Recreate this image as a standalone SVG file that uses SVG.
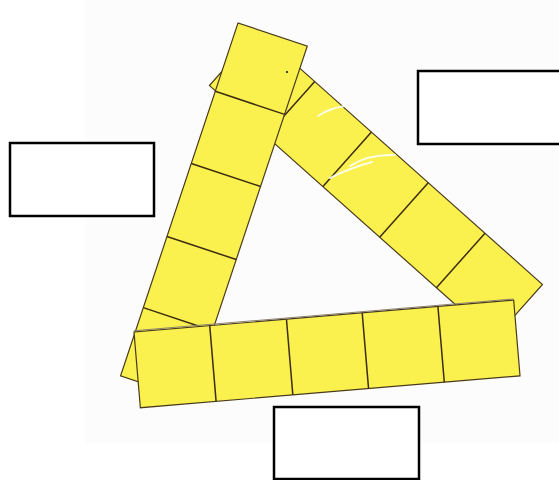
<svg xmlns="http://www.w3.org/2000/svg" width="559" height="480" viewBox="0 0 559 480">
  <style>
    .strip { fill: #FAF14E; stroke: #4a3a1c; stroke-width: 1.2; }
    .div { stroke: #3d2c12; stroke-width: 1.5; fill: none; }
    .box { fill: #ffffff; stroke: #000000; stroke-width: 2.5; }
    .tape { stroke: #ffffff; stroke-width: 2; fill: none; stroke-linecap: round; opacity: 0.85; }
  </style>
  <rect x="0" y="0" width="559" height="480" fill="#ffffff"/>
  <rect x="86" y="0" width="473" height="443" fill="#fcfcfc"/>

  <g id="strip-right">
    <g transform="translate(258,31) rotate(41.7)">
      <rect class="strip" x="0" y="0" width="381" height="73"/>
      <line class="div" x1="76" y1="0" x2="76" y2="73"/>
      <line class="div" x1="152" y1="0" x2="152" y2="73"/>
      <line class="div" x1="228" y1="0" x2="228" y2="73"/>
      <line class="div" x1="304" y1="0" x2="304" y2="73"/>
    </g>
    <path class="tape" d="M318,116 Q330,108 345,106"/>
    <path class="tape" d="M330,178 Q350,168 372,162"/>
    <path class="tape" d="M350,166 Q368,154 395,155"/>
  </g>

  <g id="strip-left">
    <g transform="translate(238,23) rotate(18.4)">
      <rect class="strip" x="0" y="0" width="73" height="372"/>
      <line class="div" x1="0" y1="72" x2="73" y2="72"/>
      <line class="div" x1="0" y1="148" x2="73" y2="148"/>
      <line class="div" x1="0" y1="225" x2="73" y2="225"/>
      <line class="div" x1="0" y1="300" x2="73" y2="300"/>
    </g>
    <circle cx="287" cy="72" r="1.1" fill="#222"/>
  </g>

  <g id="strip-bottom">
    <g transform="translate(134,332) rotate(-4.8)">
      <rect class="strip" x="0" y="0" width="381" height="76"/>
      <line x1="0" y1="-1.2" x2="381" y2="-1.2" stroke="#8a8070" stroke-width="1"/>
      <line class="div" x1="76" y1="0" x2="76" y2="76"/>
      <line class="div" x1="153" y1="0" x2="153" y2="76"/>
      <line class="div" x1="229" y1="0" x2="229" y2="76"/>
      <line class="div" x1="305" y1="0" x2="305" y2="76"/>
    </g>
  </g>

  <g id="box-left">
    <rect class="box" x="10" y="143" width="144" height="73"/>
  </g>
  <g id="box-top-right">
    <rect class="box" x="418" y="71" width="145" height="73"/>
  </g>
  <g id="box-bottom">
    <rect class="box" x="274" y="407" width="145" height="72"/>
  </g>
</svg>
